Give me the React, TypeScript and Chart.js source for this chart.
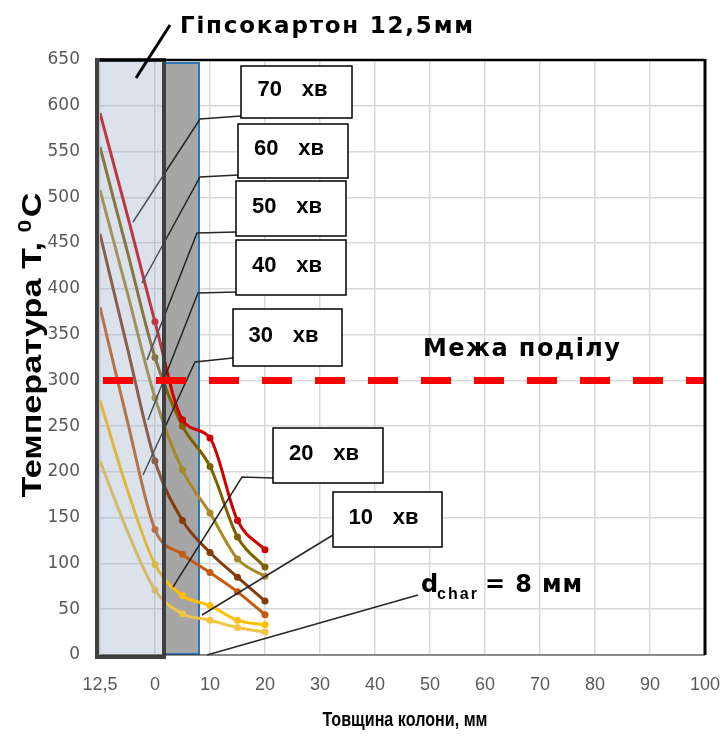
import React, { useEffect, useRef } from "react";
import { Chart, registerables } from "chart.js";

Chart.register(...registerables);

// ---------- data ----------
const thicknessMm = [-12.5, -6.25, 0, 5, 10, 15, 20];
const minutes = [70, 60, 50, 40, 30, 20, 10];
const temp70 = [592, 480, 364, 257, 237, 147, 115];
const temp60 = [555, 440, 325, 250, 206, 129, 96];
const temp50 = [508, 395, 281, 202, 155, 105, 86];
const temp40 = [460, 335, 212, 147, 112, 85, 59];
const temp30 = [380, 255, 137, 110, 90, 69, 44];
const temp20 = [278, 180, 99, 65, 54, 38, 33];
const temp10 = [212, 135, 71, 45, 38, 30, 25];
const seriesColors = ["#d00000", "#7f6000", "#a8892a", "#843c0c", "#c55a11", "#ffc000", "#f2c443"];
const xTickLabels = ["12,5", "0", "10", "20", "30", "40", "50", "60", "70", "80", "90", "100"];
const yMax = 650;
const yStep = 50;
const limitTemp = 300;
const gypsumMm = 12.5;
const charMm = 8;

const allTemps = [temp70, temp60, temp50, temp40, temp30, temp20, temp10];

// gypsum layer (-12.5..0 mm) is drawn compressed into one 10-unit grid step
const toPos = (mm: number) => (mm < 0 ? (mm * 10) / gypsumMm : mm);

// ---------- callout layout (pixels) ----------
const callouts = [
  { box: [241, 66, 352, 118], leader: [[241, 116], [200, 119], [133, 222]] },
  { box: [238, 124, 348, 178], leader: [[238, 175], [200, 177], [142, 283]] },
  { box: [236, 181, 346, 236], leader: [[236, 232], [197, 233], [147, 360]] },
  { box: [236, 240, 346, 295], leader: [[236, 292], [198, 293], [148, 420]] },
  { box: [233, 309, 342, 366], leader: [[233, 358], [195, 362], [143, 475]] },
  { box: [273, 428, 383, 483], leader: [[273, 478], [242, 477], [173, 587]] },
  { box: [333, 492, 442, 547], leader: [[333, 535], [202, 615]] },
];

const BOLD = "'Liberation Sans', Arial, sans-serif";
const WIDE = "'DejaVu Sans', Verdana, sans-serif";

function spacedText(ctx: CanvasRenderingContext2D, text: string, x: number, y: number, width: number, align: "left" | "center") {
  const chars = Array.from(text);
  const widths = chars.map((c) => ctx.measureText(c).width);
  const total = widths.reduce((a, b) => a + b, 0);
  const extra = chars.length > 1 ? (width - total) / (chars.length - 1) : 0;
  let cx = align === "center" ? x - width / 2 : x;
  ctx.textAlign = "left";
  chars.forEach((c, i) => {
    ctx.fillText(c, cx, y);
    cx += widths[i] + extra;
  });
}

const overlayPlugin = {
  id: "overlay",
  beforeDatasetsDraw(chart: any) {
    const { ctx, scales } = chart;
    const x = scales.x;
    const y = scales.y;
    const lightR = x.getPixelForValue(toPos(0)) + 9;
    const darkR = x.getPixelForValue(toPos(charMm));
    const T = y.getPixelForValue(yMax) + 3;
    const B = y.getPixelForValue(0) - 1;
    ctx.save();
    ctx.fillStyle = "#a6a6a6";
    ctx.fillRect(lightR, T, darkR - lightR, B - T);
    ctx.strokeStyle = "#2e75b6";
    ctx.lineWidth = 2;
    ctx.strokeRect(lightR + 1, T, darkR - lightR - 1, B - T);
    ctx.restore();
  },
  afterDatasetsDraw(chart: any) {
    const { ctx, scales } = chart;
    const x = scales.x;
    const y = scales.y;
    ctx.save();
    // leader lines
    ctx.strokeStyle = "#262626";
    ctx.lineWidth = 1.5;
    callouts.forEach((c) => {
      ctx.beginPath();
      c.leader.forEach((p, i) => (i === 0 ? ctx.moveTo(p[0], p[1]) : ctx.lineTo(p[0], p[1])));
      ctx.stroke();
    });
    ctx.beginPath();
    ctx.moveTo(418, 595);
    ctx.lineTo(207, 655);
    ctx.stroke();

    // gypsum board box (translucent)
    const L = x.getPixelForValue(toPos(-gypsumMm)) - 3;
    const R = x.getPixelForValue(toPos(0)) + 9;
    const T = y.getPixelForValue(yMax);
    const B = y.getPixelForValue(0) + 2;
    ctx.fillStyle = "rgba(150,168,196,0.33)";
    ctx.fillRect(L, T, R - L, B - T);
    ctx.strokeStyle = "#404040";
    ctx.lineWidth = 4;
    ctx.strokeRect(L, T, R - L, B - T);

    // charring limit line
    const yl = y.getPixelForValue(limitTemp);
    ctx.strokeStyle = "#ff0000";
    ctx.lineWidth = 7;
    ctx.setLineDash([30, 23]);
    ctx.beginPath();
    ctx.moveTo(L + 6, yl);
    ctx.lineTo(x.right, yl);
    ctx.stroke();
    ctx.setLineDash([]);
    ctx.restore();
  },
  afterDraw(chart: any) {
    const { ctx, chartArea } = chart;
    ctx.save();
    // frame
    ctx.strokeStyle = "#000";
    ctx.lineWidth = 2.5;
    ctx.beginPath();
    ctx.moveTo(chartArea.left, chartArea.top);
    ctx.lineTo(chartArea.right, chartArea.top);
    ctx.stroke();
    ctx.lineWidth = 3;
    ctx.beginPath();
    ctx.moveTo(chartArea.right, chartArea.top - 1);
    ctx.lineTo(chartArea.right, chartArea.bottom);
    ctx.stroke();
    ctx.lineWidth = 1.2;
    ctx.strokeStyle = "#333";
    ctx.beginPath();
    ctx.moveTo(chartArea.left, chartArea.bottom);
    ctx.lineTo(chartArea.right, chartArea.bottom);
    ctx.stroke();

    // callout boxes
    ctx.textBaseline = "middle";
    callouts.forEach((c, i) => {
      const [l, t, r, b] = c.box;
      ctx.fillStyle = "#fff";
      ctx.fillRect(l, t, r - l, b - t);
      ctx.strokeStyle = "#000";
      ctx.lineWidth = 1.5;
      ctx.strokeRect(l, t, r - l, b - t);
      ctx.fillStyle = "#000";
      ctx.font = `bold 22px ${BOLD}`;
      const cx = (l + r) / 2 - 2;
      const cy = (t + b) / 2 - 2;
      ctx.textAlign = "left";
      ctx.fillText(String(minutes[i]), cx - 37, cy);
      ctx.textAlign = "right";
      ctx.fillText("хв", cx + 33, cy);
    });

    // gypsum title + pointer
    ctx.strokeStyle = "#000";
    ctx.lineWidth = 3;
    ctx.beginPath();
    ctx.moveTo(136, 78);
    ctx.lineTo(170, 25);
    ctx.stroke();
    ctx.fillStyle = "#000";
    ctx.textBaseline = "alphabetic";
    ctx.font = `bold 23px ${WIDE}`;
    spacedText(ctx, "Гіпсокартон 12,5мм", 180, 33, 293, "left");

    // limit label
    ctx.font = `bold 24px ${WIDE}`;
    spacedText(ctx, "Межа поділу", 423, 356, 197, "left");

    // d_char label
    ctx.font = `bold 24px ${WIDE}`;
    ctx.textAlign = "left";
    ctx.fillText("d", 421, 592);
    ctx.font = `bold 16px ${BOLD}`;
    spacedText(ctx, "char", 437, 599, 40, "left");
    ctx.font = `bold 24px ${WIDE}`;
    spacedText(ctx, "= 8 мм", 485, 592, 97, "left");

    // y axis title (stretched along its length like the reference)
    ctx.save();
    ctx.translate(41, 345);
    ctx.rotate(-Math.PI / 2);
    ctx.textAlign = "left";
    ctx.font = `bold 27px ${BOLD}`;
    const main = "Температура Т, ";
    const mw = ctx.measureText(main).width;
    ctx.font = `bold 18px ${BOLD}`;
    const sw = ctx.measureText("0").width;
    ctx.font = `bold 27px ${BOLD}`;
    const cw = ctx.measureText("C").width;
    const natural = mw + sw + cw + 2;
    ctx.scale(305 / natural, 1);
    let sx = -natural / 2;
    ctx.fillText(main, sx, 0);
    sx += mw;
    ctx.font = `bold 18px ${BOLD}`;
    ctx.fillText("0", sx, -10);
    sx += sw + 2;
    ctx.font = `bold 27px ${BOLD}`;
    ctx.fillText("C", sx, 0);
    ctx.restore();

    // x axis title
    ctx.font = `bold 21px ${BOLD}`;
    ctx.textBaseline = "middle";
    const xt = "Товщина колони, мм";
    const xw = ctx.measureText(xt).width;
    ctx.save();
    ctx.translate(405, 720);
    ctx.scale(165 / xw, 1);
    ctx.textAlign = "center";
    ctx.fillText(xt, 0, 0);
    ctx.restore();

    ctx.restore();
  },
};

export default function App() {
  const ref = useRef<HTMLCanvasElement>(null);
  useEffect(() => {
    const canvas = ref.current!;
    const datasets = allTemps.map((vals, i) => ({
      label: `${minutes[i]} хв`,
      data: vals.map((v, j) => ({ x: toPos(thicknessMm[j]), y: v })),
      borderColor: seriesColors[i],
      backgroundColor: seriesColors[i],
      borderWidth: 3,
      pointRadius: thicknessMm.map((mm) => (mm < 0 ? 0 : 3.5)),
      pointBorderWidth: 0,
      cubicInterpolationMode: "monotone" as const,
      fill: false,
    }));
    const chart = new Chart(canvas, {
      type: "line",
      data: { datasets },
      options: {
        responsive: false,
        animation: false,
        devicePixelRatio: 1,
        layout: { padding: { left: 0, top: 60, right: 23, bottom: 0 } },
        plugins: { legend: { display: false }, tooltip: { enabled: false } },
        scales: {
          x: {
            type: "linear",
            min: -10,
            max: 100,
            ticks: {
              stepSize: 10,
              padding: 19,
              color: "#595959",
              font: { family: "'Liberation Sans', Arial, sans-serif", size: 18 },
              callback: (v: any) => xTickLabels[Math.round((Number(v) + 10) / 10)] ?? "",
            },
            grid: { color: "#d9d9d9", lineWidth: 1.5, drawTicks: false },
            border: { display: false },
            afterFit: (s: any) => {
              s.height = 85;
              s.paddingLeft = 0;
              s.paddingRight = 0;
            },
          },
          y: {
            min: 0,
            max: yMax,
            ticks: {
              stepSize: yStep,
              padding: 20,
              color: "#595959",
              font: { family: "'DejaVu Sans', sans-serif", size: 17 },
            },
            grid: { color: "#d9d9d9", lineWidth: 1.5, drawTicks: false },
            border: { display: false },
            afterFit: (s: any) => {
              s.width = 100;
              s.paddingTop = 0;
              s.paddingBottom = 0;
            },
          },
        },
      },
      plugins: [overlayPlugin],
    });
    return () => chart.destroy();
  }, []);
  return (
    <div style={{ position: "fixed", left: 0, top: 0, width: 728, height: 740, background: "#fff" }}>
      <canvas ref={ref} width={728} height={740} style={{ display: "block", width: 728, height: 740 }} />
    </div>
  );
}
